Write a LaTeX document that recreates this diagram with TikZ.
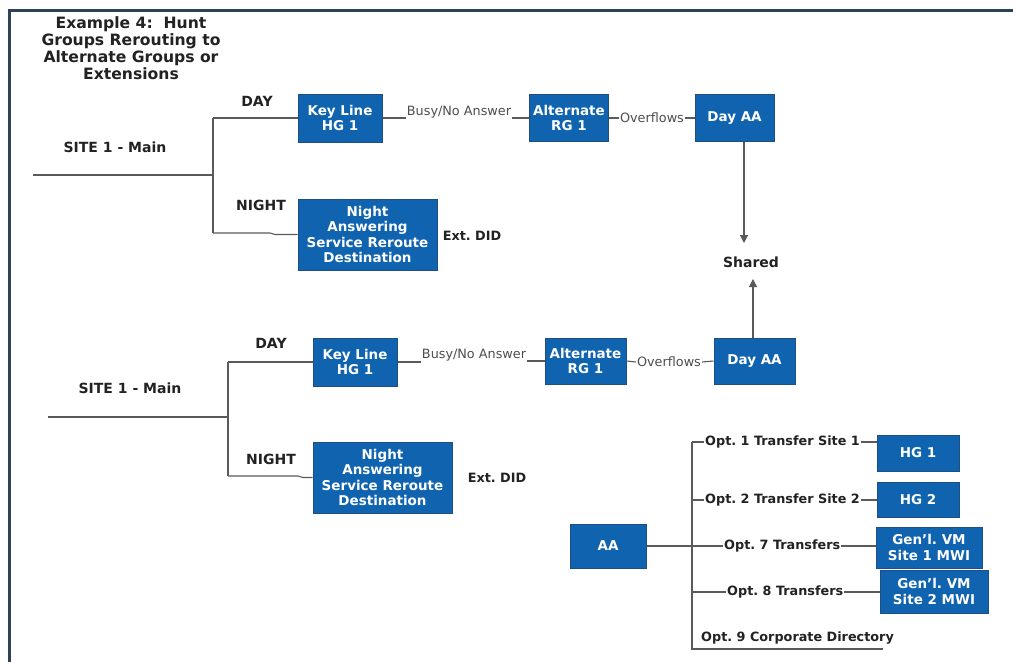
\documentclass[tikz,border=0pt]{standalone}
\usepackage{fontspec}
\setmainfont{DejaVu Sans}
\usetikzlibrary{arrows.meta}
\definecolor{boxfill}{HTML}{0F63AF}
\definecolor{boxline}{HTML}{1E4E84}
\definecolor{wire}{HTML}{5A5A5A}
\definecolor{frame}{HTML}{2E4358}
\definecolor{ink}{HTML}{222222}
\frenchspacing
\tikzset{
  bluebox/.style={draw=boxline, line width=1pt, fill=boxfill, text=white,
    font=\bfseries\fontsize{13.5}{15.3}\selectfont, align=center, inner sep=1pt},
  lbl/.style={text=ink, font=\bfseries\fontsize{14}{16}\selectfont, inner sep=0pt},
  optlbl/.style={text=ink, font=\bfseries\fontsize{12.8}{15}\selectfont, inner sep=1pt},
  thin/.style={text=ink!80, font=\fontsize{12.8}{15}\selectfont, inner sep=1pt},
  wireline/.style={draw=wire, line width=1.1pt},
  arr/.style={wireline, -{Triangle[width=8pt,length=8pt]}}
}
\begin{document}
\begin{tikzpicture}[x=1pt,y=-1pt]
\useasboundingbox (0,0) rectangle (1013,662);
\fill[white] (0,0) rectangle (1013,662);
% frame
\draw[frame, line width=3pt] (9,662) -- (9,10) -- (1013,10);

% title
\node[text=ink, font=\bfseries\fontsize{15.6}{17}\selectfont, align=center] (title) at (131,48)
  {Example 4:\ \ Hunt\\Groups Rerouting to\\Alternate Groups or\\Extensions};

% ---------- top site ----------
\node[lbl] (site1) at (115,147) {SITE 1 - Main};
\node[lbl] (day1) at (257,101) {DAY};
\node[lbl] (night1) at (261,205) {NIGHT};
\node[bluebox, minimum width=84pt, minimum height=48pt] (kl1) at (340,118) {Key Line\\HG 1};
\node[bluebox, minimum width=139pt, minimum height=71pt] (n1) at (367.5,234.5) {Night\\Answering\\Service Reroute\\Destination};
\node[lbl, font=\bfseries\fontsize{12.8}{15}\selectfont] (ext1) at (472,236) {Ext. DID};
\node[thin] (bn1) at (459,112) {Busy/No Answer};
\node[bluebox, minimum width=79pt, minimum height=47pt] (ar1) at (569,118) {Alternate\\RG 1};
\node[thin] (ov1) at (652,118) {Overflows};
\node[bluebox, minimum width=79pt, minimum height=47pt] (da1) at (734.5,118) {Day AA};
\node[lbl] (shared) at (751,262) {Shared};

\coordinate (in1) at (33,175);
\coordinate (j1) at (213,175);
\coordinate (j1d) at (213,118);
\coordinate (j1n) at (213,233);
\coordinate (k1) at (270,233);
\coordinate (k1b) at (275,234.5);
\draw[wireline] (in1) -- (j1);
\draw[wireline] (j1d) -- (j1n);
\draw[wireline] (j1d) -- (kl1.west);
\draw[wireline] (j1n) -- (k1) -- (k1b) -- (n1.west);
\draw[wireline] (kl1.east) -- (bn1.west |- kl1.east);
\draw[wireline] (bn1.east |- ar1.west) -- (ar1.west);
\draw[wireline] (ar1.east) -- (ov1.west);
\draw[wireline] (ov1.east) -- (da1.west);
\coordinate (sh1) at (744,243);
\coordinate (sh2) at (753,279);
\draw[arr] ([xshift=9.5pt]da1.south) -- (sh1);

% ---------- bottom site ----------
\node[lbl] (site2) at (130,388) {SITE 1 - Main};
\node[lbl] (day2) at (271,343) {DAY};
\node[lbl] (night2) at (271,459) {NIGHT};
\node[bluebox, minimum width=84pt, minimum height=48pt] (kl2) at (355,362) {Key Line\\HG 1};
\node[bluebox, minimum width=139pt, minimum height=71pt] (n2) at (382.5,477.5) {Night\\Answering\\Service Reroute\\Destination};
\node[lbl, font=\bfseries\fontsize{12.8}{15}\selectfont] (ext2) at (497,478) {Ext. DID};
\node[thin] (bn2) at (474,355) {Busy/No Answer};
\node[bluebox, minimum width=81pt, minimum height=46pt] (ar2) at (585.5,361) {Alternate\\RG 1};
\node[thin] (ov2) at (669,362) {Overflows};
\node[bluebox, minimum width=81pt, minimum height=46pt] (da2) at (754.5,361) {Day AA};

\coordinate (in2) at (48,417);
\coordinate (j2) at (228,417);
\coordinate (j2d) at (228,362);
\coordinate (j2n) at (228,476);
\coordinate (k2) at (298,476);
\coordinate (k2b) at (303,477.5);
\draw[wireline] (in2) -- (j2);
\draw[wireline] (j2d) -- (j2n);
\draw[wireline] (j2d) -- (kl2.west);
\draw[wireline] (j2n) -- (k2) -- (k2b) -- (n2.west);
\draw[wireline] (kl2.east) -- (bn2.west |- kl2.east);
\draw[wireline] (bn2.east |- ar2.west) -- (ar2.west);
\draw[wireline] (ar2.east) -- (ov2.west);
\draw[wireline] (ov2.east) -- (da2.west);
\draw[arr] (da2.north -| sh2) -- (sh2);

% ---------- AA menu ----------
\node[bluebox, minimum width=76pt, minimum height=44pt] (aa) at (608,546) {AA};
\node[bluebox, minimum width=82pt, minimum height=36pt] (hg1) at (918,453) {HG 1};
\node[bluebox, minimum width=82pt, minimum height=35pt] (hg2) at (918,499.5) {HG 2};
\node[bluebox, minimum width=106pt, minimum height=41pt] (vm1) at (929,547.5) {Gen'l. VM\\Site 1 MWI};
\node[bluebox, minimum width=108pt, minimum height=43pt] (vm2) at (934,591.5) {Gen'l. VM\\Site 2 MWI};

\node[optlbl, anchor=west] (o1) at (704,442) {Opt. 1 Transfer Site 1};
\node[optlbl, anchor=west] (o2) at (704,500) {Opt. 2 Transfer Site 2};
\node[optlbl, anchor=west] (o7) at (723,546) {Opt. 7 Transfers};
\node[optlbl, anchor=west] (o8) at (726,592) {Opt. 8 Transfers};
\node[optlbl, anchor=west] (o9) at (700,638) {Opt. 9 Corporate Directory};

\coordinate (bt) at (692,442);
\coordinate (b2) at (692,500);
\coordinate (b8) at (692,592);
\coordinate (bb) at (692,649);
\coordinate (bend) at (883,649);
\draw[wireline] (bt) -- (bb) -- (bend);
\draw[wireline] (bt) -- (o1.west);
\draw[wireline] (b2) -- (o2.west);
\draw[wireline] (aa.east) -- (o7.west);
\draw[wireline] (b8) -- (o8.west);
\draw[wireline] (o1.east) -- (hg1.west |- o1.east);
\draw[wireline] (o2.east) -- (hg2.west |- o2.east);
\draw[wireline] (o7.east) -- (vm1.west |- o7.east);
\draw[wireline] (o8.east) -- (vm2.west |- o8.east);
\end{tikzpicture}
\end{document}
